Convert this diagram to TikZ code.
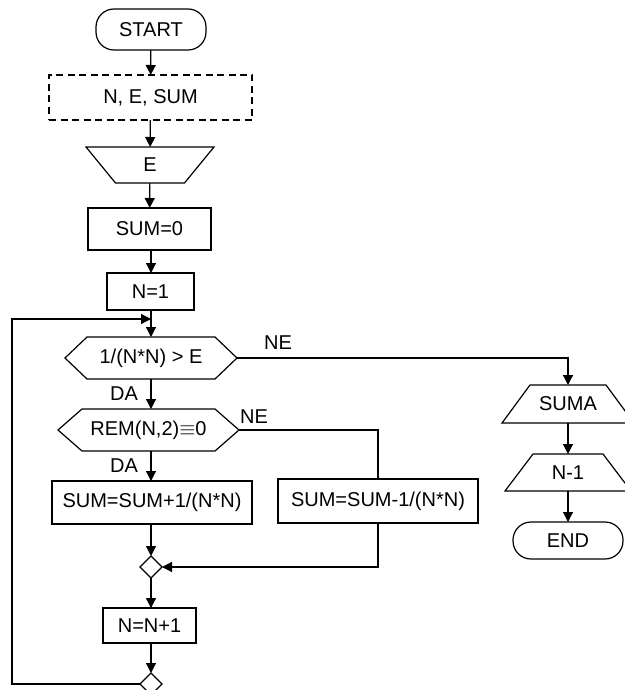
\documentclass[tikz,border=0pt]{standalone}
\usepackage{fontspec}
\setmainfont{Liberation Sans}
\usetikzlibrary{arrows.meta,shapes.geometric}
\begin{document}
\begin{tikzpicture}[x=1pt,y=-1pt, line width=1.2pt,
  every node/.style={font=\fontsize{20}{23}\selectfont, inner sep=0pt, outer sep=0pt},
  term/.style={draw, rectangle, rounded corners=18pt, minimum width=#1, minimum height=38pt},
  decl/.style={draw, dashed, dash pattern=on 7pt off 4.5pt, rectangle, minimum width=#1, minimum height=45pt},
  proc/.style={draw, rectangle, minimum width=#1},
  frame/.style={rectangle, minimum width=#1},
  junc/.style={draw, diamond, minimum width=22pt, minimum height=22pt, aspect=1},
  arr/.style={-{Triangle[length=10pt,width=10pt]}},
  lbl/.style={font=\fontsize{20}{23}\selectfont}
]
\useasboundingbox (0,0) rectangle (624,690);

% left column
\node[term=110pt, minimum height=41pt] (start) at (151,29.5) {START};
\node[decl=203pt] (vars) at (150.5,97.5) {N, E, SUM};
\node[frame=128pt, minimum height=36pt] (inE) at (150,165) {E};
\draw (inE.north west) -- (inE.north east) -- ([xshift=-29.5pt]inE.south east) -- ([xshift=29.5pt]inE.south west) -- cycle;
\node[proc=123pt, minimum height=42pt] (sum0) at (149.5,229) {SUM=0};
\node[proc=87pt, minimum height=37pt] (n1) at (150.5,291.5) {N=1};
\node[frame=172pt, minimum height=42pt] (c1) at (151,358) {1/(N*N) > E};
\draw (c1.west) -- ([xshift=22pt]c1.north west) -- ([xshift=-22pt]c1.north east) -- (c1.east) -- ([xshift=-22pt]c1.south east) -- ([xshift=22pt]c1.south west) -- cycle;
\node[frame=181pt, minimum height=42pt] (c2) at (148.5,430) {REM(N,2)$\equiv$0};
\draw (c2.west) -- ([xshift=24pt]c2.north west) -- ([xshift=-24pt]c2.north east) -- (c2.east) -- ([xshift=-24pt]c2.south east) -- ([xshift=24pt]c2.south west) -- cycle;
\node[proc=200pt, minimum height=43pt] (plus) at (152,502.5) {SUM=SUM+1/(N*N)};
\node[proc=200pt, minimum height=44pt] (minus) at (378,501) {SUM=SUM-1/(N*N)};
\node[junc] (m1) at (151,567) {};
\node[proc=93pt, minimum height=35pt] (inc) at (149.5,625.5) {N=N+1};
\node[junc] (m2) at (151,684) {};

% right column
\node[frame=132pt, minimum height=38pt] (outS) at (568,404) {SUMA};
\draw ([xshift=28pt]outS.north west) -- ([xshift=-28pt]outS.north east) -- (outS.south east) -- (outS.south west) -- cycle;
\node[frame=126pt, minimum height=37pt] (outN) at (568,472.5) {N-1};
\draw ([xshift=28pt]outN.north west) -- ([xshift=-28pt]outN.north east) -- (outN.south east) -- (outN.south west) -- cycle;
\node[term=110pt, minimum height=37pt] (stop) at (568,540.5) {END};

\coordinate (loopL) at (12,684);
\coordinate (loopT) at (12,319);
\coordinate (loopIn) at (151,319);

% connectors
\draw[arr] (start) -- (vars);
\draw[arr] (vars) -- (inE);
\draw[arr] (inE) -- (sum0);
\draw[arr] ([xshift=1.5pt]sum0.south) -- ([xshift=0.5pt]n1.north);
\draw[arr] ([xshift=0.5pt]n1.south) -- (c1.north);
\draw[arr] (m2.west) -- (loopL) -- (loopT) -- (loopIn);
\draw[arr] (c1.south) -- (c1.south |- c2.north) node[lbl, pos=0.5, left=13pt] {DA};
\draw[arr] (c1.south |- c2.south) -- (c1.south |- plus.north) node[lbl, pos=0.5, left=13pt] {DA};
\draw[arr] (c1.east) -- (outS.north |- c1.east) -- (outS.north);
\node[lbl] (ne1) at (278,343) {NE};
\draw (c2.east) -- (minus.north |- c2.east) -- (minus.north);
\node[lbl] (ne2) at (254,417) {NE};
\draw[arr] (c1.south |- plus.south) -- (m1.north);
\draw[arr] (minus.south) -- (minus.south |- m1.east) -- (m1.east);
\draw[arr] (m1.south) -- (m1.south |- inc.north);
\draw[arr] (m1.south |- inc.south) -- (m2.north);
\draw[arr] (outS.south) -- (outN.north);
\draw[arr] (outN.south) -- (stop.north);
\end{tikzpicture}
\end{document}
